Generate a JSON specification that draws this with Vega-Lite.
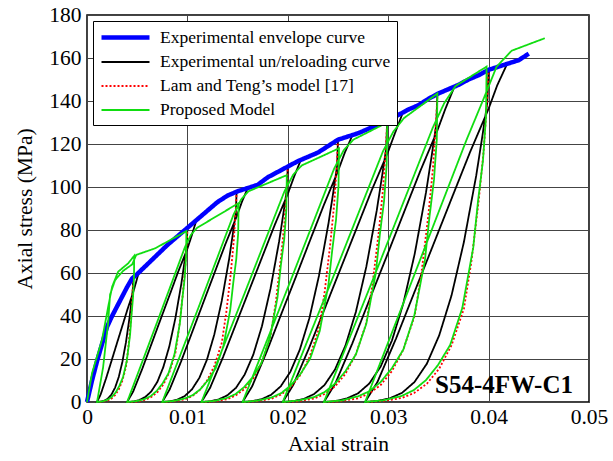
{
"$schema":"https://vega.github.io/schema/vega-lite/v6.json",
"width":502,"height":387,
"autosize":{"type":"none"},
"padding":{"left":87,"top":15,"right":24,"bottom":59},
"background":"white",
"config":{
 "view":{"stroke":"black","strokeWidth":1.5},
 "font":"Liberation Serif",
 "axis":{"grid":true,"gridColor":"#444444","gridWidth":1,"gridOpacity":1,"domain":false,"ticks":false,"labelFont":"Liberation Serif","labelFontSize":21.5,"labelColor":"black","titleFont":"Liberation Serif","titleFontSize":21.5,"titleFontWeight":"normal","titleColor":"black","labelFlush":false,"labelOverlap":false}
},
"layer":[
{
"data":{"values":[
{"s":"exp","k":"e1","x":0.0046,"y":58},{"s":"exp","k":"e1","x":0.00456,"y":52.2},{"s":"exp","k":"e1","x":0.00442,"y":46.4},{"s":"exp","k":"e1","x":0.00424,"y":39.4},{"s":"exp","k":"e1","x":0.00388,"y":27.8},{"s":"exp","k":"e1","x":0.00352,"y":18.6},{"s":"exp","k":"e1","x":0.00316,"y":11.6},{"s":"exp","k":"e1","x":0.0028,"y":6.7},{"s":"exp","k":"e1","x":0.00244,"y":3.5},{"s":"exp","k":"e1","x":0.00208,"y":1.6},{"s":"exp","k":"e1","x":0.00172,"y":0.6},{"s":"exp","k":"e1","x":0.00136,"y":0.2},{"s":"exp","k":"e1","x":0.001,"y":0},{"s":"exp","k":"e1","x":0.00136,"y":3.5},{"s":"exp","k":"e1","x":0.0019,"y":11},{"s":"exp","k":"e1","x":0.00244,"y":19.1},{"s":"exp","k":"e1","x":0.00298,"y":27.3},{"s":"exp","k":"e1","x":0.00352,"y":35.4},{"s":"exp","k":"e1","x":0.00406,"y":43.5},{"s":"exp","k":"e1","x":0.0046,"y":51},{"s":"exp","k":"e1","x":0.00485,"y":55.1},{"s":"exp","k":"e1","x":0.00514,"y":60},
{"s":"exp","k":"e2","x":0.010,"y":81},{"s":"exp","k":"e2","x":0.00994,"y":72.9},{"s":"exp","k":"e2","x":0.0097,"y":64.8},{"s":"exp","k":"e2","x":0.0094,"y":55.1},{"s":"exp","k":"e2","x":0.0088,"y":38.9},{"s":"exp","k":"e2","x":0.0082,"y":25.9},{"s":"exp","k":"e2","x":0.0076,"y":16.2},{"s":"exp","k":"e2","x":0.007,"y":9.3},{"s":"exp","k":"e2","x":0.0064,"y":4.9},{"s":"exp","k":"e2","x":0.0058,"y":2.3},{"s":"exp","k":"e2","x":0.0052,"y":0.9},{"s":"exp","k":"e2","x":0.0046,"y":0.2},{"s":"exp","k":"e2","x":0.004,"y":0},{"s":"exp","k":"e2","x":0.0046,"y":4.9},{"s":"exp","k":"e2","x":0.0055,"y":15.4},{"s":"exp","k":"e2","x":0.0064,"y":26.7},{"s":"exp","k":"e2","x":0.0073,"y":38.1},{"s":"exp","k":"e2","x":0.0082,"y":49.4},{"s":"exp","k":"e2","x":0.0091,"y":60.8},{"s":"exp","k":"e2","x":0.010,"y":71.3},{"s":"exp","k":"e2","x":0.0104,"y":77},{"s":"exp","k":"e2","x":0.0109,"y":84.6},
{"s":"exp","k":"e3","x":0.0149,"y":98},{"s":"exp","k":"e3","x":0.01483,"y":88.2},{"s":"exp","k":"e3","x":0.01453,"y":78.4},{"s":"exp","k":"e3","x":0.01416,"y":66.6},{"s":"exp","k":"e3","x":0.01342,"y":47},{"s":"exp","k":"e3","x":0.01268,"y":31.4},{"s":"exp","k":"e3","x":0.01194,"y":19.6},{"s":"exp","k":"e3","x":0.0112,"y":11.3},{"s":"exp","k":"e3","x":0.01046,"y":5.9},{"s":"exp","k":"e3","x":0.00972,"y":2.7},{"s":"exp","k":"e3","x":0.00898,"y":1.1},{"s":"exp","k":"e3","x":0.00824,"y":0.3},{"s":"exp","k":"e3","x":0.0075,"y":0},{"s":"exp","k":"e3","x":0.00824,"y":5.9},{"s":"exp","k":"e3","x":0.00935,"y":18.6},{"s":"exp","k":"e3","x":0.01046,"y":32.3},{"s":"exp","k":"e3","x":0.01157,"y":46.1},{"s":"exp","k":"e3","x":0.01268,"y":59.8},{"s":"exp","k":"e3","x":0.01379,"y":73.5},{"s":"exp","k":"e3","x":0.0149,"y":86.2},{"s":"exp","k":"e3","x":0.01543,"y":93.1},{"s":"exp","k":"e3","x":0.01601,"y":99.5},
{"s":"exp","k":"e4","x":0.02,"y":110},{"s":"exp","k":"e4","x":0.01991,"y":99},{"s":"exp","k":"e4","x":0.01957,"y":88},{"s":"exp","k":"e4","x":0.01914,"y":74.8},{"s":"exp","k":"e4","x":0.01828,"y":52.8},{"s":"exp","k":"e4","x":0.01742,"y":35.2},{"s":"exp","k":"e4","x":0.01656,"y":22},{"s":"exp","k":"e4","x":0.0157,"y":12.7},{"s":"exp","k":"e4","x":0.01484,"y":6.6},{"s":"exp","k":"e4","x":0.01398,"y":3.1},{"s":"exp","k":"e4","x":0.01312,"y":1.2},{"s":"exp","k":"e4","x":0.01226,"y":0.3},{"s":"exp","k":"e4","x":0.0114,"y":0},{"s":"exp","k":"e4","x":0.01226,"y":6.6},{"s":"exp","k":"e4","x":0.01355,"y":20.9},{"s":"exp","k":"e4","x":0.01484,"y":36.3},{"s":"exp","k":"e4","x":0.01613,"y":51.7},{"s":"exp","k":"e4","x":0.01742,"y":67.1},{"s":"exp","k":"e4","x":0.01871,"y":82.5},{"s":"exp","k":"e4","x":0.02,"y":96.8},{"s":"exp","k":"e4","x":0.0206,"y":104.5},{"s":"exp","k":"e4","x":0.0213,"y":112.6},
{"s":"exp","k":"e5","x":0.025,"y":122},{"s":"exp","k":"e5","x":0.02491,"y":109.8},{"s":"exp","k":"e5","x":0.02453,"y":97.6},{"s":"exp","k":"e5","x":0.02405,"y":83},{"s":"exp","k":"e5","x":0.0231,"y":58.6},{"s":"exp","k":"e5","x":0.02215,"y":39},{"s":"exp","k":"e5","x":0.0212,"y":24.4},{"s":"exp","k":"e5","x":0.02025,"y":14},{"s":"exp","k":"e5","x":0.0193,"y":7.3},{"s":"exp","k":"e5","x":0.01835,"y":3.4},{"s":"exp","k":"e5","x":0.0174,"y":1.3},{"s":"exp","k":"e5","x":0.01645,"y":0.4},{"s":"exp","k":"e5","x":0.0155,"y":0},{"s":"exp","k":"e5","x":0.01645,"y":7.3},{"s":"exp","k":"e5","x":0.01788,"y":23.2},{"s":"exp","k":"e5","x":0.0193,"y":40.3},{"s":"exp","k":"e5","x":0.02073,"y":57.3},{"s":"exp","k":"e5","x":0.02215,"y":74.4},{"s":"exp","k":"e5","x":0.02358,"y":91.5},{"s":"exp","k":"e5","x":0.025,"y":107.4},{"s":"exp","k":"e5","x":0.02567,"y":115.9},{"s":"exp","k":"e5","x":0.02643,"y":124},
{"s":"exp","k":"e6","x":0.0299,"y":131},{"s":"exp","k":"e6","x":0.0298,"y":117.9},{"s":"exp","k":"e6","x":0.02938,"y":104.8},{"s":"exp","k":"e6","x":0.02886,"y":89.1},{"s":"exp","k":"e6","x":0.02782,"y":62.9},{"s":"exp","k":"e6","x":0.02678,"y":41.9},{"s":"exp","k":"e6","x":0.02574,"y":26.2},{"s":"exp","k":"e6","x":0.0247,"y":15.1},{"s":"exp","k":"e6","x":0.02366,"y":7.9},{"s":"exp","k":"e6","x":0.02262,"y":3.7},{"s":"exp","k":"e6","x":0.02158,"y":1.4},{"s":"exp","k":"e6","x":0.02054,"y":0.4},{"s":"exp","k":"e6","x":0.0195,"y":0},{"s":"exp","k":"e6","x":0.02054,"y":7.9},{"s":"exp","k":"e6","x":0.0221,"y":24.9},{"s":"exp","k":"e6","x":0.02366,"y":43.2},{"s":"exp","k":"e6","x":0.02522,"y":61.6},{"s":"exp","k":"e6","x":0.02678,"y":79.9},{"s":"exp","k":"e6","x":0.02834,"y":98.3},{"s":"exp","k":"e6","x":0.0299,"y":115.3},{"s":"exp","k":"e6","x":0.03063,"y":124.5},{"s":"exp","k":"e6","x":0.03146,"y":134.6},
{"s":"exp","k":"e7","x":0.0349,"y":143.5},{"s":"exp","k":"e7","x":0.03479,"y":129.2},{"s":"exp","k":"e7","x":0.03434,"y":114.8},{"s":"exp","k":"e7","x":0.03377,"y":97.6},{"s":"exp","k":"e7","x":0.03264,"y":68.9},{"s":"exp","k":"e7","x":0.03151,"y":45.9},{"s":"exp","k":"e7","x":0.03038,"y":28.7},{"s":"exp","k":"e7","x":0.02925,"y":16.5},{"s":"exp","k":"e7","x":0.02812,"y":8.6},{"s":"exp","k":"e7","x":0.02699,"y":4},{"s":"exp","k":"e7","x":0.02586,"y":1.6},{"s":"exp","k":"e7","x":0.02473,"y":0.4},{"s":"exp","k":"e7","x":0.0236,"y":0},{"s":"exp","k":"e7","x":0.02473,"y":8.6},{"s":"exp","k":"e7","x":0.02643,"y":27.3},{"s":"exp","k":"e7","x":0.02812,"y":47.4},{"s":"exp","k":"e7","x":0.02982,"y":67.4},{"s":"exp","k":"e7","x":0.03151,"y":87.5},{"s":"exp","k":"e7","x":0.03321,"y":107.6},{"s":"exp","k":"e7","x":0.0349,"y":126.3},{"s":"exp","k":"e7","x":0.03569,"y":136.3},{"s":"exp","k":"e7","x":0.0366,"y":146.7},
{"s":"exp","k":"e8","x":0.04,"y":155},{"s":"exp","k":"e8","x":0.03988,"y":139.5},{"s":"exp","k":"e8","x":0.03939,"y":124},{"s":"exp","k":"e8","x":0.03877,"y":105.4},{"s":"exp","k":"e8","x":0.03754,"y":74.4},{"s":"exp","k":"e8","x":0.03631,"y":49.6},{"s":"exp","k":"e8","x":0.03508,"y":31},{"s":"exp","k":"e8","x":0.03385,"y":17.8},{"s":"exp","k":"e8","x":0.03262,"y":9.3},{"s":"exp","k":"e8","x":0.03139,"y":4.3},{"s":"exp","k":"e8","x":0.03016,"y":1.7},{"s":"exp","k":"e8","x":0.02893,"y":0.5},{"s":"exp","k":"e8","x":0.0277,"y":0},{"s":"exp","k":"e8","x":0.02893,"y":9.3},{"s":"exp","k":"e8","x":0.03078,"y":29.5},{"s":"exp","k":"e8","x":0.03262,"y":51.2},{"s":"exp","k":"e8","x":0.03447,"y":72.9},{"s":"exp","k":"e8","x":0.03631,"y":94.6},{"s":"exp","k":"e8","x":0.03816,"y":116.3},{"s":"exp","k":"e8","x":0.04,"y":136.4},{"s":"exp","k":"e8","x":0.04086,"y":147.3},{"s":"exp","k":"e8","x":0.04185,"y":157.3},
{"s":"lt","k":"r1","x":0.0046,"y":58},{"s":"lt","k":"r1","x":0.00456,"y":53.4},{"s":"lt","k":"r1","x":0.00446,"y":43.8},{"s":"lt","k":"r1","x":0.00431,"y":35.1},{"s":"lt","k":"r1","x":0.0041,"y":24.4},{"s":"lt","k":"r1","x":0.00388,"y":16.2},{"s":"lt","k":"r1","x":0.00352,"y":9.9},{"s":"lt","k":"r1","x":0.00316,"y":5.8},{"s":"lt","k":"r1","x":0.0028,"y":3.2},{"s":"lt","k":"r1","x":0.00244,"y":1.6},{"s":"lt","k":"r1","x":0.00208,"y":0.7},{"s":"lt","k":"r1","x":0.00154,"y":0.2},{"s":"lt","k":"r1","x":0.001,"y":0},
{"s":"lt","k":"r2","x":0.010,"y":81},{"s":"lt","k":"r2","x":0.00994,"y":74.5},{"s":"lt","k":"r2","x":0.00976,"y":61.2},{"s":"lt","k":"r2","x":0.00952,"y":49.1},{"s":"lt","k":"r2","x":0.00916,"y":34},{"s":"lt","k":"r2","x":0.0088,"y":22.7},{"s":"lt","k":"r2","x":0.0082,"y":13.8},{"s":"lt","k":"r2","x":0.0076,"y":8.1},{"s":"lt","k":"r2","x":0.007,"y":4.5},{"s":"lt","k":"r2","x":0.0064,"y":2.3},{"s":"lt","k":"r2","x":0.0058,"y":1},{"s":"lt","k":"r2","x":0.0049,"y":0.2},{"s":"lt","k":"r2","x":0.004,"y":0},
{"s":"lt","k":"r3","x":0.0149,"y":98},{"s":"lt","k":"r3","x":0.01483,"y":90.2},{"s":"lt","k":"r3","x":0.0146,"y":74},{"s":"lt","k":"r3","x":0.01431,"y":59.4},{"s":"lt","k":"r3","x":0.01386,"y":41.2},{"s":"lt","k":"r3","x":0.01342,"y":27.4},{"s":"lt","k":"r3","x":0.01268,"y":16.7},{"s":"lt","k":"r3","x":0.01194,"y":9.8},{"s":"lt","k":"r3","x":0.0112,"y":5.4},{"s":"lt","k":"r3","x":0.01046,"y":2.7},{"s":"lt","k":"r3","x":0.00972,"y":1.2},{"s":"lt","k":"r3","x":0.00861,"y":0.3},{"s":"lt","k":"r3","x":0.0075,"y":0},
{"s":"lt","k":"r4","x":0.02,"y":110},{"s":"lt","k":"r4","x":0.01991,"y":101.2},{"s":"lt","k":"r4","x":0.01966,"y":83},{"s":"lt","k":"r4","x":0.01931,"y":66.7},{"s":"lt","k":"r4","x":0.0188,"y":46.2},{"s":"lt","k":"r4","x":0.01828,"y":30.8},{"s":"lt","k":"r4","x":0.01742,"y":18.7},{"s":"lt","k":"r4","x":0.01656,"y":11},{"s":"lt","k":"r4","x":0.0157,"y":6.1},{"s":"lt","k":"r4","x":0.01484,"y":3.1},{"s":"lt","k":"r4","x":0.01398,"y":1.3},{"s":"lt","k":"r4","x":0.01269,"y":0.3},{"s":"lt","k":"r4","x":0.0114,"y":0},
{"s":"lt","k":"r5","x":0.025,"y":122},{"s":"lt","k":"r5","x":0.02491,"y":112.2},{"s":"lt","k":"r5","x":0.02462,"y":92.1},{"s":"lt","k":"r5","x":0.02424,"y":73.9},{"s":"lt","k":"r5","x":0.02367,"y":51.2},{"s":"lt","k":"r5","x":0.0231,"y":34.2},{"s":"lt","k":"r5","x":0.02215,"y":20.7},{"s":"lt","k":"r5","x":0.0212,"y":12.2},{"s":"lt","k":"r5","x":0.02025,"y":6.7},{"s":"lt","k":"r5","x":0.0193,"y":3.4},{"s":"lt","k":"r5","x":0.01835,"y":1.5},{"s":"lt","k":"r5","x":0.01693,"y":0.4},{"s":"lt","k":"r5","x":0.0155,"y":0},
{"s":"lt","k":"r6","x":0.0299,"y":131},{"s":"lt","k":"r6","x":0.0298,"y":120.5},{"s":"lt","k":"r6","x":0.02948,"y":98.9},{"s":"lt","k":"r6","x":0.02907,"y":79.4},{"s":"lt","k":"r6","x":0.02844,"y":55},{"s":"lt","k":"r6","x":0.02782,"y":36.7},{"s":"lt","k":"r6","x":0.02678,"y":22.3},{"s":"lt","k":"r6","x":0.02574,"y":13.1},{"s":"lt","k":"r6","x":0.0247,"y":7.2},{"s":"lt","k":"r6","x":0.02366,"y":3.7},{"s":"lt","k":"r6","x":0.02262,"y":1.6},{"s":"lt","k":"r6","x":0.02106,"y":0.4},{"s":"lt","k":"r6","x":0.0195,"y":0},
{"s":"lt","k":"r7","x":0.0349,"y":143.5},{"s":"lt","k":"r7","x":0.03479,"y":132},{"s":"lt","k":"r7","x":0.03445,"y":108.3},{"s":"lt","k":"r7","x":0.034,"y":87},{"s":"lt","k":"r7","x":0.03332,"y":60.3},{"s":"lt","k":"r7","x":0.03264,"y":40.2},{"s":"lt","k":"r7","x":0.03151,"y":24.4},{"s":"lt","k":"r7","x":0.03038,"y":14.4},{"s":"lt","k":"r7","x":0.02925,"y":7.9},{"s":"lt","k":"r7","x":0.02812,"y":4},{"s":"lt","k":"r7","x":0.02699,"y":1.7},{"s":"lt","k":"r7","x":0.0253,"y":0.4},{"s":"lt","k":"r7","x":0.0236,"y":0},
{"s":"lt","k":"r8","x":0.04,"y":155},{"s":"lt","k":"r8","x":0.03988,"y":142.6},{"s":"lt","k":"r8","x":0.03951,"y":117},{"s":"lt","k":"r8","x":0.03902,"y":93.9},{"s":"lt","k":"r8","x":0.03828,"y":65.1},{"s":"lt","k":"r8","x":0.03754,"y":43.4},{"s":"lt","k":"r8","x":0.03631,"y":26.4},{"s":"lt","k":"r8","x":0.03508,"y":15.5},{"s":"lt","k":"r8","x":0.03385,"y":8.5},{"s":"lt","k":"r8","x":0.03262,"y":4.3},{"s":"lt","k":"r8","x":0.03139,"y":1.9},{"s":"lt","k":"r8","x":0.02955,"y":0.5},{"s":"lt","k":"r8","x":0.0277,"y":0},
{"s":"env","k":"b","x":0,"y":0},{"s":"env","k":"b","x":0.0005,"y":10},{"s":"env","k":"b","x":0.001,"y":19},{"s":"env","k":"b","x":0.0015,"y":27},{"s":"env","k":"b","x":0.002,"y":35},{"s":"env","k":"b","x":0.0025,"y":40},{"s":"env","k":"b","x":0.003,"y":44.5},{"s":"env","k":"b","x":0.0035,"y":49},{"s":"env","k":"b","x":0.004,"y":53.5},{"s":"env","k":"b","x":0.0045,"y":57.5},{"s":"env","k":"b","x":0.005,"y":59.5},{"s":"env","k":"b","x":0.006,"y":64},{"s":"env","k":"b","x":0.007,"y":68.5},{"s":"env","k":"b","x":0.008,"y":73},{"s":"env","k":"b","x":0.009,"y":77},{"s":"env","k":"b","x":0.010,"y":81},{"s":"env","k":"b","x":0.011,"y":85},{"s":"env","k":"b","x":0.012,"y":89},{"s":"env","k":"b","x":0.013,"y":93},{"s":"env","k":"b","x":0.014,"y":96},{"s":"env","k":"b","x":0.015,"y":98},{"s":"env","k":"b","x":0.016,"y":99.5},{"s":"env","k":"b","x":0.017,"y":101},{"s":"env","k":"b","x":0.018,"y":104.5},{"s":"env","k":"b","x":0.019,"y":107},{"s":"env","k":"b","x":0.020,"y":109.5},{"s":"env","k":"b","x":0.021,"y":112},{"s":"env","k":"b","x":0.022,"y":114},{"s":"env","k":"b","x":0.023,"y":116},{"s":"env","k":"b","x":0.024,"y":119},{"s":"env","k":"b","x":0.025,"y":122},{"s":"env","k":"b","x":0.026,"y":123.5},{"s":"env","k":"b","x":0.027,"y":125},{"s":"env","k":"b","x":0.028,"y":127},{"s":"env","k":"b","x":0.029,"y":129},{"s":"env","k":"b","x":0.030,"y":131},{"s":"env","k":"b","x":0.031,"y":133.5},{"s":"env","k":"b","x":0.032,"y":136},{"s":"env","k":"b","x":0.033,"y":138},{"s":"env","k":"b","x":0.034,"y":141},{"s":"env","k":"b","x":0.035,"y":143.5},{"s":"env","k":"b","x":0.036,"y":145.5},{"s":"env","k":"b","x":0.037,"y":147.5},{"s":"env","k":"b","x":0.038,"y":150},{"s":"env","k":"b","x":0.039,"y":152},{"s":"env","k":"b","x":0.040,"y":154.5},{"s":"env","k":"b","x":0.041,"y":156},{"s":"env","k":"b","x":0.042,"y":157.5},{"s":"env","k":"b","x":0.043,"y":159},{"s":"env","k":"b","x":0.044,"y":162},
{"s":"pm","k":"g","x":0,"y":0},{"s":"pm","k":"g","x":0.0005,"y":13.4},{"s":"pm","k":"g","x":0.0015,"y":29},{"s":"pm","k":"g","x":0.0021,"y":44},{"s":"pm","k":"g","x":0.0025,"y":53.6},{"s":"pm","k":"g","x":0.0031,"y":60.6},{"s":"pm","k":"g","x":0.0041,"y":64.5},{"s":"pm","k":"g","x":0.0047,"y":68},
{"s":"pm","k":"g","x":0.00468,"y":57.8},{"s":"pm","k":"g","x":0.00459,"y":49},{"s":"pm","k":"g","x":0.00444,"y":40.8},{"s":"pm","k":"g","x":0.00429,"y":31.3},{"s":"pm","k":"g","x":0.00396,"y":19},{"s":"pm","k":"g","x":0.00359,"y":11.6},{"s":"pm","k":"g","x":0.00322,"y":7.5},{"s":"pm","k":"g","x":0.00285,"y":4.4},{"s":"pm","k":"g","x":0.00248,"y":2.4},{"s":"pm","k":"g","x":0.00211,"y":1.2},{"s":"pm","k":"g","x":0.00156,"y":0.3},{"s":"pm","k":"g","x":0.001,"y":0},
{"s":"pm","k":"g","x":0.0016,"y":16},{"s":"pm","k":"g","x":0.0021,"y":36.7},{"s":"pm","k":"g","x":0.0023,"y":50},{"s":"pm","k":"g","x":0.0028,"y":56.7},{"s":"pm","k":"g","x":0.0036,"y":61},{"s":"pm","k":"g","x":0.0045,"y":64},{"s":"pm","k":"g","x":0.0049,"y":68.4},{"s":"pm","k":"g","x":0.0068,"y":71.5},{"s":"pm","k":"g","x":0.0099,"y":79.5},
{"s":"pm","k":"g","x":0.00987,"y":67.6},{"s":"pm","k":"g","x":0.00972,"y":57.2},{"s":"pm","k":"g","x":0.00949,"y":47.7},{"s":"pm","k":"g","x":0.00925,"y":36.6},{"s":"pm","k":"g","x":0.00872,"y":22.3},{"s":"pm","k":"g","x":0.00813,"y":13.5},{"s":"pm","k":"g","x":0.00754,"y":8.7},{"s":"pm","k":"g","x":0.00695,"y":5.2},{"s":"pm","k":"g","x":0.00636,"y":2.8},{"s":"pm","k":"g","x":0.00577,"y":1.4},{"s":"pm","k":"g","x":0.00489,"y":0.4},{"s":"pm","k":"g","x":0.004,"y":0},
{"s":"pm","k":"g","x":0.007,"y":37.3},{"s":"pm","k":"g","x":0.00976,"y":72.1},{"s":"pm","k":"g","x":0.01036,"y":77.8},{"s":"pm","k":"g","x":0.01096,"y":81},{"s":"pm","k":"g","x":0.0151,"y":92.5},
{"s":"pm","k":"g","x":0.01506,"y":78.6},{"s":"pm","k":"g","x":0.01487,"y":66.6},{"s":"pm","k":"g","x":0.01457,"y":55.5},{"s":"pm","k":"g","x":0.01426,"y":42.6},{"s":"pm","k":"g","x":0.01358,"y":25.9},{"s":"pm","k":"g","x":0.01282,"y":15.7},{"s":"pm","k":"g","x":0.01206,"y":10.2},{"s":"pm","k":"g","x":0.0113,"y":6},{"s":"pm","k":"g","x":0.01054,"y":3.2},{"s":"pm","k":"g","x":0.00978,"y":1.7},{"s":"pm","k":"g","x":0.00864,"y":0.5},{"s":"pm","k":"g","x":0.0075,"y":0},
{"s":"pm","k":"g","x":0.0112,"y":45.1},{"s":"pm","k":"g","x":0.0146,"y":87.2},{"s":"pm","k":"g","x":0.01534,"y":94.1},{"s":"pm","k":"g","x":0.01608,"y":98},{"s":"pm","k":"g","x":0.0199,"y":105.5},
{"s":"pm","k":"g","x":0.01986,"y":89.7},{"s":"pm","k":"g","x":0.01965,"y":76},{"s":"pm","k":"g","x":0.0193,"y":63.3},{"s":"pm","k":"g","x":0.01897,"y":48.5},{"s":"pm","k":"g","x":0.0182,"y":29.5},{"s":"pm","k":"g","x":0.01735,"y":17.9},{"s":"pm","k":"g","x":0.0165,"y":11.6},{"s":"pm","k":"g","x":0.01565,"y":6.9},{"s":"pm","k":"g","x":0.0148,"y":3.7},{"s":"pm","k":"g","x":0.01395,"y":1.9},{"s":"pm","k":"g","x":0.01268,"y":0.5},{"s":"pm","k":"g","x":0.0114,"y":0},
{"s":"pm","k":"g","x":0.0157,"y":50.6},{"s":"pm","k":"g","x":0.01966,"y":97.9},{"s":"pm","k":"g","x":0.02052,"y":105.6},{"s":"pm","k":"g","x":0.02138,"y":110},{"s":"pm","k":"g","x":0.0251,"y":118},
{"s":"pm","k":"g","x":0.02505,"y":100.3},{"s":"pm","k":"g","x":0.02481,"y":85},{"s":"pm","k":"g","x":0.02443,"y":70.8},{"s":"pm","k":"g","x":0.02404,"y":54.3},{"s":"pm","k":"g","x":0.02318,"y":33},{"s":"pm","k":"g","x":0.02222,"y":20.1},{"s":"pm","k":"g","x":0.02126,"y":13},{"s":"pm","k":"g","x":0.0203,"y":7.7},{"s":"pm","k":"g","x":0.01934,"y":4.1},{"s":"pm","k":"g","x":0.01838,"y":2.1},{"s":"pm","k":"g","x":0.01694,"y":0.6},{"s":"pm","k":"g","x":0.0155,"y":0},
{"s":"pm","k":"g","x":0.02025,"y":56.1},{"s":"pm","k":"g","x":0.02462,"y":108.6},{"s":"pm","k":"g","x":0.02557,"y":117.1},{"s":"pm","k":"g","x":0.02652,"y":122},{"s":"pm","k":"g","x":0.0299,"y":130},
{"s":"pm","k":"g","x":0.02985,"y":110.5},{"s":"pm","k":"g","x":0.02959,"y":93.6},{"s":"pm","k":"g","x":0.02917,"y":78},{"s":"pm","k":"g","x":0.02876,"y":59.8},{"s":"pm","k":"g","x":0.02782,"y":36.4},{"s":"pm","k":"g","x":0.02678,"y":22.1},{"s":"pm","k":"g","x":0.02574,"y":14.3},{"s":"pm","k":"g","x":0.0247,"y":8.5},{"s":"pm","k":"g","x":0.02366,"y":4.6},{"s":"pm","k":"g","x":0.02262,"y":2.3},{"s":"pm","k":"g","x":0.02106,"y":0.7},{"s":"pm","k":"g","x":0.0195,"y":0},
{"s":"pm","k":"g","x":0.0247,"y":60.3},{"s":"pm","k":"g","x":0.02948,"y":116.6},{"s":"pm","k":"g","x":0.03052,"y":125.8},{"s":"pm","k":"g","x":0.03156,"y":132},{"s":"pm","k":"g","x":0.0349,"y":143.5},
{"s":"pm","k":"g","x":0.03484,"y":122},{"s":"pm","k":"g","x":0.03456,"y":103.3},{"s":"pm","k":"g","x":0.03411,"y":86.1},{"s":"pm","k":"g","x":0.03366,"y":66},{"s":"pm","k":"g","x":0.0326,"y":40.2},{"s":"pm","k":"g","x":0.03151,"y":24.4},{"s":"pm","k":"g","x":0.03038,"y":15.8},{"s":"pm","k":"g","x":0.02925,"y":9.3},{"s":"pm","k":"g","x":0.02812,"y":5},{"s":"pm","k":"g","x":0.02699,"y":2.6},{"s":"pm","k":"g","x":0.0253,"y":0.7},{"s":"pm","k":"g","x":0.0236,"y":0},
{"s":"pm","k":"g","x":0.02925,"y":66},{"s":"pm","k":"g","x":0.03445,"y":127.7},{"s":"pm","k":"g","x":0.03558,"y":139},{"s":"pm","k":"g","x":0.03671,"y":147},{"s":"pm","k":"g","x":0.0398,"y":156},
{"s":"pm","k":"g","x":0.03974,"y":132.6},{"s":"pm","k":"g","x":0.03944,"y":112.3},{"s":"pm","k":"g","x":0.03895,"y":93.6},{"s":"pm","k":"g","x":0.03847,"y":71.8},{"s":"pm","k":"g","x":0.03738,"y":43.7},{"s":"pm","k":"g","x":0.03617,"y":26.5},{"s":"pm","k":"g","x":0.03496,"y":17.2},{"s":"pm","k":"g","x":0.03375,"y":10.1},{"s":"pm","k":"g","x":0.03254,"y":5.5},{"s":"pm","k":"g","x":0.03133,"y":2.8},{"s":"pm","k":"g","x":0.02952,"y":0.8},{"s":"pm","k":"g","x":0.0277,"y":0},
{"s":"pm","k":"g","x":0.0378,"y":121.9},{"s":"pm","k":"g","x":0.0395,"y":141},{"s":"pm","k":"g","x":0.0408,"y":156},{"s":"pm","k":"g","x":0.0423,"y":163.4},{"s":"pm","k":"g","x":0.0456,"y":169.2}
]},
"encoding":{
 "x":{"field":"x","type":"quantitative","scale":{"domain":[0,0.05],"nice":false,"zero":false},"axis":{"values":[0,0.01,0.02,0.03,0.04,0.05],"format":".2~f","title":"Axial strain","labelPadding":4,"titlePadding":6}},
 "y":{"field":"y","type":"quantitative","scale":{"domain":[0,180],"nice":false},"axis":{"values":[0,20,40,60,80,100,120,140,160,180],"title":"Axial stress (MPa)","labelPadding":6,"titlePadding":12}},
 "color":{"field":"s","type":"nominal","scale":{"domain":["env","exp","lt","pm"],"range":["#0000ff","#000000","#ff0000","#11dd11"]},
   "legend":{"orient":"none","legendX":6,"legendY":6,"title":null,"fillColor":"white","strokeColor":"black","padding":6,"symbolType":"M-1,0H5","symbolSize":256,"labelOffset":40,"labelFont":"Liberation Serif","labelFontSize":17.5,"labelColor":"black","rowPadding":6,"labelLimit":0,
   "labelExpr":"datum.label=='env'?'Experimental envelope curve':datum.label=='exp'?'Experimental un/reloading curve':datum.label=='lt'?'Lam and Teng’s model [17]':'Proposed Model'"}},
 "strokeDash":{"field":"s","type":"nominal","scale":{"type":"ordinal","domain":["env","exp","lt","pm"],"range":[[1,0],[1,0],[2,2],[1,0]]}},
 "strokeWidth":{"field":"s","type":"nominal","scale":{"type":"ordinal","domain":["env","exp","lt","pm"],"range":[4.5,1.8,1.8,1.8]}},
 "detail":{"field":"k","type":"nominal"},
 "order":{"value":null}
},
"layer":[
 {"transform":[{"filter":"datum.s=='exp'"}],"mark":{"type":"line"}},
 {"transform":[{"filter":"datum.s=='lt'"}],"mark":{"type":"line"}},
 {"transform":[{"filter":"datum.s=='env'"}],"mark":{"type":"line"}},
 {"transform":[{"filter":"datum.s=='pm'"}],"mark":{"type":"line"}}
]
},
{
"data":{"values":[{"label":"S54-4FW-C1"}]},
"mark":{"type":"text","font":"Liberation Serif","fontSize":25,"fontWeight":"bold","align":"right","baseline":"alphabetic","color":"black"},
"encoding":{"x":{"datum":0.0484,"type":"quantitative"},"y":{"datum":4,"type":"quantitative"},"text":{"field":"label"}}
}
]
}
